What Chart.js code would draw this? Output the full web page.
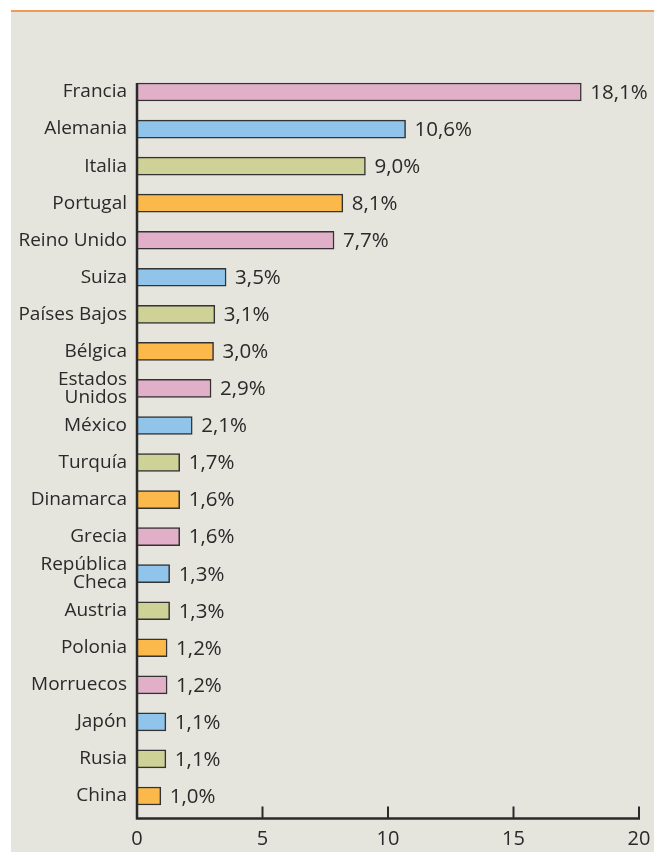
<!DOCTYPE html>
<html>
<head>
<meta charset="utf-8">
<script src="https://cdn.jsdelivr.net/npm/chart.js@4.4.1/dist/chart.umd.min.js"></script>
<style>
  html, body { margin: 0; padding: 0; background: #ffffff; overflow: hidden; }
  #panel {
    position: absolute; left: 11px; top: 12px; width: 643px; height: 840px;
    background: #e5e4dd;
  }
  #rule { position: absolute; left: 11px; top: 10px; width: 643px; height: 2px; background: #ef9a55; }
  #wrap { position: absolute; left: 0; top: 0; width: 654px; height: 852px; }
</style>
</head>
<body>
<div id="panel"></div>
<div id="rule"></div>
<div id="wrap"><canvas id="chart"></canvas></div>
<script>
const countries = [
  'Francia', 'Alemania', 'Italia', 'Portugal', 'Reino Unido', 'Suiza',
  'Países Bajos', 'Bélgica', ['Estados', 'Unidos'], 'México', 'Turquía',
  'Dinamarca', 'Grecia', ['República', 'Checa'], 'Austria', 'Polonia',
  'Morruecos', 'Japón', 'Rusia', 'China'
];
// bar lengths as drawn (Francia's bar is drawn shorter than its printed value)
const barLengths = [17.7, 10.7, 9.1, 8.2, 7.85, 3.55, 3.1, 3.05, 2.95, 2.2, 1.7,
  1.7, 1.7, 1.3, 1.3, 1.2, 1.2, 1.15, 1.15, 0.95];
const valueLabels = ['18,1%', '10,6%', '9,0%', '8,1%', '7,7%', '3,5%', '3,1%',
  '3,0%', '2,9%', '2,1%', '1,7%', '1,6%', '1,6%', '1,3%', '1,3%', '1,2%',
  '1,2%', '1,1%', '1,1%', '1,0%'];
const xTicks = [0, 5, 10, 15, 20];
const palette = ['#e1b0c8', '#90c4ea', '#cfd297', '#fbb84b'];

const ink = '#2a2a2a';
const fontFamily = "'Open Sans', 'Noto Sans', sans-serif";

const axesAndLabels = {
  id: 'axesAndLabels',
  afterDatasetsDraw(chart) {
    const c = chart.ctx;
    const xs = chart.scales.x;
    const bars = chart.getDatasetMeta(0).data;
    const axisY = chart.chartArea.bottom + 4;
    const x0 = xs.getPixelForValue(0);
    c.save();
    c.strokeStyle = ink;
    c.lineWidth = 2.5;
    c.beginPath();
    c.moveTo(x0, bars[0].y - bars[0].height / 2);
    c.lineTo(x0, axisY);
    c.lineTo(xs.getPixelForValue(20) + 1, axisY);
    c.stroke();
    c.lineWidth = 2;
    xTicks.slice(1).forEach(t => {
      const px = xs.getPixelForValue(t);
      c.beginPath();
      c.moveTo(px, axisY - 12);
      c.lineTo(px, axisY);
      c.stroke();
    });
    c.fillStyle = ink;
    c.font = '20.5px ' + fontFamily;
    c.textBaseline = 'middle';
    c.textAlign = 'left';
    bars.forEach((b, i) => {
      c.fillText(valueLabels[i], b.x + 9, b.y + 1);
    });
    c.restore();
  }
};

const chart = new Chart(document.getElementById('chart'), {
  type: 'bar',
  data: {
    labels: countries,
    datasets: [{
      data: barLengths,
      backgroundColor: countries.map((_, i) => palette[i % 4]),
      borderColor: '#333333',
      borderWidth: 1.5,
      borderSkipped: 'start',
      barThickness: 18
    }]
  },
  options: {
    indexAxis: 'y',
    responsive: true,
    maintainAspectRatio: false,
    animation: false,
    layout: { padding: { top: 73.5, right: 15, left: 0, bottom: 0 } },
    plugins: { legend: { display: false }, tooltip: { enabled: false } },
    scales: {
      x: {
        min: 0,
        max: 20,
        ticks: { stepSize: 5, color: ink, padding: 13, font: { size: 20, family: fontFamily } },
        grid: { display: false, drawTicks: false },
        border: { display: false },
        afterFit(scale) {
          scale.height = 37.5;
          scale.paddingLeft = 0;
          scale.paddingRight = 0;
        }
      },
      y: {
        ticks: { autoSkip: false, color: ink, padding: 10, font: { size: 19, family: fontFamily, lineHeight: 0.95 } },
        grid: { display: false, drawTicks: false },
        border: { display: false },
        afterFit(scale) {
          scale.width = 137;
          scale.paddingTop = 0;
          scale.paddingBottom = 0;
        }
      }
    }
  },
  plugins: [axesAndLabels]
});
</script>
</body>
</html>
